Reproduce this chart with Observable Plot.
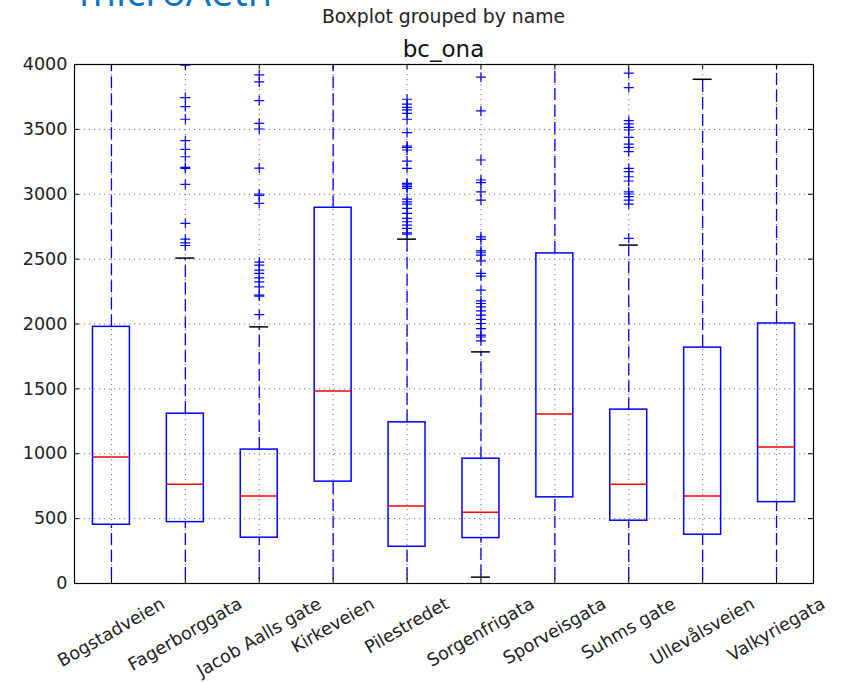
<!DOCTYPE html>
<html>
<head>
<meta charset="utf-8">
<script src="https://cdn.jsdelivr.net/npm/d3@7"></script>
<script src="https://cdn.jsdelivr.net/npm/@observablehq/plot@0.6"></script>
<style>
  body { margin: 0; background: #fff; }
  #wrap { position: relative; width: 847px; height: 682px; overflow: hidden; font-family: "DejaVu Sans", sans-serif; color: #000; }
  .logo { position: absolute; left: 79px; top: -29.5px; font-family: "Open Sans", sans-serif; font-size: 40px; line-height: 40px; color: #0b72c2; white-space: nowrap; z-index: 2; }
  .t1 { position: absolute; left: 0; width: 887px; text-align: center; top: 8.3px; font-size: 18.8px; line-height: 18.8px; z-index: 2; color: #222; }
  .t2 { position: absolute; left: 0; width: 887px; text-align: center; top: 37.6px; font-size: 23px; line-height: 23px; z-index: 2; color: #111; }
  #chart svg { display: block; }
</style>
</head>
<body>
<div id="wrap">
  <div class="logo">microAeth</div>
  <div class="t1">Boxplot grouped by name</div>
  <div class="t2">bc_ona</div>
  <div id="chart"></div>
</div>
<script>
// ---- data ----
const names = ["Bogstadveien", "Fagerborggata", "Jacob Aalls gate", "Kirkeveien", "Pilestredet",
               "Sorgenfrigata", "Sporveisgata", "Suhms gate", "Ullevålsveien", "Valkyriegata"];
const q1 = [453, 473, 353, 785, 283, 350, 664, 484, 376, 627];
const median = [975, 764, 674, 1484, 597, 550, 1306, 764, 674, 1052];
const q3 = [1978, 1309, 1032, 2896, 1242, 962, 2544, 1340, 1818, 2004];
const whiskerLow = [-100, -100, -100, -100, -100, 49, -100, -100, -100, -100];
const whiskerHigh = [4300, 2508, 1978, 4300, 2654, 1785, 4300, 2608, 3886, 4300];
const outliers = [
  [],
  [3995, 3745, 3676, 3578, 3413, 3346, 3289, 3207, 3200, 3076, 2776, 2654, 2626, 2605],
  [3920, 3866, 3722, 3547, 3503, 3202, 3002, 2991, 2930, 2477, 2454, 2415, 2390, 2356, 2325, 2286, 2222, 2215, 2073],
  [],
  [3732, 3694, 3670, 3650, 3624, 3578, 3475, 3372, 3362, 3341, 3256, 3200, 3084, 3073, 3058, 3045,
   2963, 2942, 2924, 2891, 2853, 2814, 2788, 2762, 2737, 2703, 2693],
  [3902, 3642, 3264, 3110, 3089, 3019, 2955, 2672, 2652, 2564, 2549, 2531, 2487, 2390, 2369, 2261,
   2178, 2158, 2132, 2101, 2068, 2035, 2004, 1965, 1914, 1900, 1870],
  [],
  [3933, 3822, 3567, 3542, 3516, 3495, 3439, 3387, 3362, 3328, 3200, 3174, 3135, 3102, 3019, 3002, 2981, 2955, 2924, 2660],
  [],
  []
];
const yTicks = [0, 500, 1000, 1500, 2000, 2500, 3000, 3500, 4000];

// ---- tables built from the arrays ----
const boxes = names.map((n, i) => ({name: n, q1: q1[i], median: median[i], q3: q3[i], lo: whiskerLow[i], hi: whiskerHigh[i]}));
const outlierRows = names.flatMap((n, i) => outliers[i].map(v => ({name: n, value: v})));

const W = 847, H = 682, mL = 74, mR = 34, mT = 64, mB = 99;
const plotW = W - mL - mR, plotH = H - mT - mB;
const labelSize = 17.6;

const plusSymbol = {
  draw(context, size) {
    const r = Math.sqrt(size / Math.PI);
    context.moveTo(-r, 0); context.lineTo(r, 0);
    context.moveTo(0, -r); context.lineTo(0, r);
  }
};

const gridStyle = {stroke: "#777", strokeWidth: 1, strokeDasharray: "1.2,3.8"};

const plot = Plot.plot({
  width: W, height: H,
  marginLeft: mL, marginRight: mR, marginTop: mT, marginBottom: mB,
  style: {fontFamily: "DejaVu Sans, sans-serif", fontSize: labelSize + "px", color: "#222", background: "transparent", overflow: "visible"},
  x: {type: "band", domain: names, paddingInner: 0.5, paddingOuter: 0.25, round: false, axis: null},
  y: {domain: [0, 4000], ticks: yTicks, tickSize: 0, tickPadding: 7, tickFormat: d => String(d), label: null},
  marks: [
    Plot.ruleY(yTicks, {y: d => d, ...gridStyle}),
    Plot.ruleX(names, {x: d => d, ...gridStyle}),
    Plot.barY(boxes, {x: "name", y1: "q1", y2: "q3", fill: "none", stroke: "#0000ff", strokeWidth: 1.5}),
    Plot.ruleX(boxes, {x: "name", y1: "lo", y2: "q1", stroke: "#0000ff", strokeWidth: 1.3, strokeDasharray: "12,5", clip: true}),
    Plot.ruleX(boxes, {x: "name", y1: "q3", y2: "hi", stroke: "#0000ff", strokeWidth: 1.3, strokeDasharray: "12,5", clip: true}),
    Plot.tickY(boxes, {x: "name", y: "lo", stroke: "#000", strokeWidth: 1.5, insetLeft: 9, insetRight: 9, clip: true}),
    Plot.tickY(boxes, {x: "name", y: "hi", stroke: "#000", strokeWidth: 1.5, insetLeft: 9, insetRight: 9, clip: true}),
    Plot.tickY(boxes, {x: "name", y: "median", stroke: "#ff0000", strokeWidth: 1.5}),
    Plot.dot(outlierRows, {x: "name", y: "value", symbol: plusSymbol, r: 5, stroke: "#0000ff", strokeWidth: 1.2, fill: "none", clip: true}),
    Plot.tickY(yTicks, {y: d => d, insetRight: plotW - 5, stroke: "#000"}),
    Plot.tickY(yTicks, {y: d => d, insetLeft: plotW - 5, stroke: "#000"}),
    Plot.tickX(names, {x: d => d, insetTop: plotH - 5, stroke: "#000"}),
    Plot.tickX(names, {x: d => d, insetBottom: plotH - 5, stroke: "#000"}),
    Plot.frame({stroke: "#000", strokeWidth: 1.2}),
    Plot.text(names, {x: d => d, text: d => d, frameAnchor: "bottom", fontSize: labelSize, fill: "#222"})
  ]
});

document.getElementById("chart").appendChild(plot);

// matplotlib-style rotated labels: rotated bounding box centred on the tick, top 10px below the axis
const xs = plot.scale("x");
const ys = plot.scale("y");
const nameSet = new Set(names);
const axisY = ys.apply(0);
const labelEls = [...plot.querySelectorAll('g[aria-label="text"] text')].filter(t => nameSet.has(t.textContent));
labelEls.forEach(t => {
  const name = t.textContent;
  const cx = xs.apply(name) + xs.bandwidth / 2;
  const tw = t.getComputedTextLength();
  const th = labelSize * 1.164;
  const a = Math.PI / 6;
  const cy = axisY + 10 + (tw * Math.sin(a) + th * Math.cos(a)) / 2;
  const m = t.parentNode.getCTM();
  t.setAttribute("x", 0);
  t.setAttribute("y", 0);
  t.setAttribute("text-anchor", "middle");
  t.setAttribute("dy", "0.35em");
  t.setAttribute("transform", `translate(${cx - (m ? m.e : 0)},${cy - (m ? m.f : 0)}) rotate(-30)`);
});
</script>
</body>
</html>
